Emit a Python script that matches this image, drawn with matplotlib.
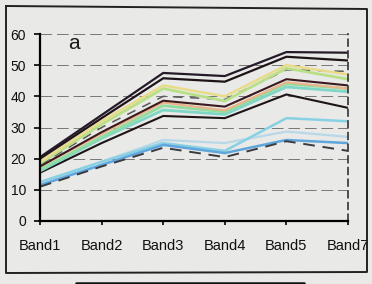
import matplotlib
matplotlib.use("Agg")
import matplotlib.pyplot as plt
from matplotlib.lines import Line2D

plt.rcParams['font.family'] = ['Liberation Sans', 'DejaVu Sans']

categories = ["Band1", "Band2", "Band3", "Band4", "Band5", "Band7"]
yticks = [0, 10, 20, 30, 40, 50, 60]

s1 = [20.5, 34, 47.5, 46.5, 54.2, 54]
s2 = [20, 33, 45.8, 44.7, 52.7, 51.5]
s3 = [19, 32, 43.5, 40, 50, 47]
s4 = [18.5, 31, 42.5, 38.5, 49, 45.5]
s5 = [18, 30, 40, 39, 48.5, 48]
s6 = [17.5, 28.5, 38.6, 36.7, 45.5, 43.5]
s7 = [17.5, 28, 38, 35.5, 44.5, 42.5]
s8 = [16.5, 27, 37, 35, 44, 42.5]
s9 = [16, 26.5, 35.6, 34.2, 43, 41.5]
s10 = [15.5, 25, 33.7, 33, 40.6, 36.3]
s11 = [12.5, 19, 25, 22.5, 33, 32]
s12 = [12, 19, 26, 25, 28.7, 27]
s13 = [11.5, 18, 24.4, 21.8, 26, 25]
s14 = [11, 17.5, 23.5, 20.5, 25.6, 22.5]

series = [
    (s12, '#b8d8e8', '-', 1.6),
    (s11, '#88d0e4', '-', 1.8),
    (s13, '#5fa6dc', '-', 1.8),
    (s14, '#3a3a40', (0, (6, 4)), 1.4),
    (s10, '#1e1418', '-', 1.5),
    (s9, '#7fd6c6', '-', 2.0),
    (s8, '#92dca0', '-', 2.0),
    (s7, '#eab48a', '-', 1.6),
    (s6, '#3a1a1e', '-', 1.5),
    (s5, '#5a5a5a', (0, (6, 5)), 1.1),
    (s4, '#b8e088', '-', 2.0),
    (s3, '#e8dc8a', '-', 1.8),
    (s2, '#1e1418', '-', 1.6),
    (s1, '#241a28', '-', 1.6),
]

bg = '#e9e9e7'
fig = plt.figure(figsize=(3.72, 2.84), dpi=100, facecolor=bg)
ax = fig.add_axes([40/372, (284-221)/284, (348-40)/372, (221-34)/284])
ax.set_facecolor(bg)

x = list(range(len(categories)))
for vals, col, ls, lw in series:
    ax.plot(x, vals, color=col, linestyle=ls, linewidth=lw, solid_capstyle='butt')

ax.set_xlim(0, len(categories) - 1)
ax.set_ylim(0, 60)
ax.set_yticks(yticks)
ax.set_yticklabels([str(v) for v in yticks], fontsize=10, color='#111111')
ax.set_xticks(x)
ax.set_xticklabels(categories, fontsize=10.5, color='#111111')
ax.tick_params(axis='y', direction='out', length=4, width=1.2, pad=6)
ax.tick_params(axis='x', direction='out', length=3, width=1.2, pad=10)

for v in yticks[1:]:
    ax.axhline(v, color='#777777', linewidth=0.7, linestyle=(0, (12, 5)), zorder=0)

ax.spines['top'].set_visible(False)
ax.spines['right'].set_linestyle((0, (4, 3)))
ax.spines['right'].set_linewidth(1.2)
ax.spines['right'].set_color('#333333')
ax.spines['left'].set_linewidth(1.6)
ax.spines['bottom'].set_linewidth(1.6)

ax.text(0.55, 57, 'a', fontsize=15, color='#1a1a1a', ha='center', va='center')

def fx(px):
    return px / 372
def fy(py):
    return (284 - py) / 284

frame = [(6, 6), (367, 9), (367, 272), (6, 273), (6, 6)]
fig.add_artist(Line2D([fx(p[0]) for p in frame], [fy(p[1]) for p in frame],
                      color='#222222', linewidth=1.4))
fig.add_artist(Line2D([fx(76), fx(76), fx(304), fx(304)],
                      [fy(290), fy(283), fy(283), fy(290)],
                      color='#111111', linewidth=1.8))

fig.savefig('out.png', dpi=100, facecolor=bg)
